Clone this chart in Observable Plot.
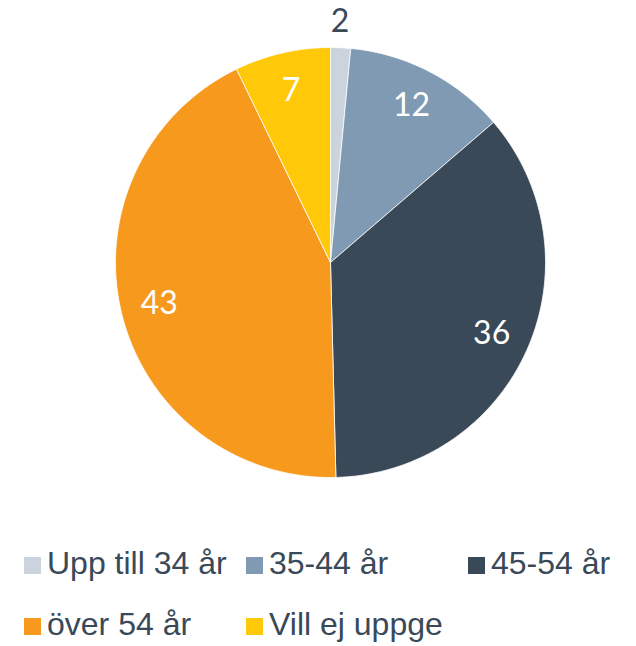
<!DOCTYPE html>
<html>
<head>
<meta charset="utf-8">
<script src="https://cdn.jsdelivr.net/npm/d3@7"></script>
<script src="https://cdn.jsdelivr.net/npm/@observablehq/plot@0.6"></script>
<style>
  html, body { margin: 0; padding: 0; background: #fff; }
  #chart svg { display: block; }
  #legend { padding: 13px 0 0 24px; font-family: "Liberation Sans", Arial, sans-serif; font-size: 32px; color: #3a4958; width: 660px; box-sizing: border-box; }
  .row { height: 61px; line-height: 61px; white-space: nowrap; }
  .item { display: inline-block; width: 222px; }
  .sw { display: inline-block; width: 17px; height: 17px; margin-right: 6px; }
</style>
</head>
<body>
<div id="chart"></div>
<div id="legend"></div>
<script>
// Data (shares; labels shown rounded)
const categories = ["Upp till 34 år", "35-44 år", "45-54 år", "över 54 år", "Vill ej uppge"];
const values = [1.5, 12.2, 35.9, 43.2, 7.2];
const labelTexts = ["2", "12", "36", "43", "7"];
const colors = ["#cbd3dc", "#7f9ab2", "#3a4958", "#f7991c", "#ffc90a"];

// Layout
const W = 636, H = 520, cx = 330, cy = 262, R = 215;

const total = d3.sum(values);
const slices = [];
let acc = 0;
values.forEach((v, i) => {
  const a0 = acc / total * 2 * Math.PI;
  acc += v;
  const a1 = acc / total * 2 * Math.PI;
  slices.push({cat: categories[i], value: v, label: labelTexts[i], a0, a1});
});

const pts = [];
for (const s of slices) {
  pts.push({cat: s.cat, x: 0, y: 0});
  const n = Math.max(2, Math.ceil((s.a1 - s.a0) / (Math.PI / 360)));
  for (let k = 0; k <= n; k++) {
    const a = s.a0 + (s.a1 - s.a0) * k / n;
    pts.push({cat: s.cat, x: Math.sin(a), y: Math.cos(a)});
  }
  pts.push({cat: s.cat, x: 0, y: 0});
}

const labels = slices.map(s => {
  const small = s.value < 5;
  const a = small ? s.a0 + 0.04 : (s.a0 + s.a1) / 2;
  const rr = small ? 1.12 : 0.82;
  return {label: s.label, x: Math.sin(a) * rr, y: Math.cos(a) * rr, fill: small ? "#3a4958" : "#ffffff"};
});

const plot = Plot.plot({
  width: W,
  height: H,
  margin: 0,
  x: {domain: [-cx / R, (W - cx) / R], range: [0, W], axis: null},
  y: {domain: [cy / R, -(H - cy) / R], range: [0, H], axis: null},
  color: {domain: categories, range: colors},
  marks: [
    Plot.line(pts, {x: "x", y: "y", z: "cat", fill: "cat", stroke: "#ffffff", strokeWidth: 0.8, strokeLinejoin: "round", curve: "linear"}),
    Plot.text(labels, {x: "x", y: "y", text: "label", fill: d => d.fill, fontSize: 32, fontFamily: "Lato, 'Open Sans', sans-serif", textAnchor: "middle", lineAnchor: "middle"})
  ]
});
document.getElementById("chart").appendChild(plot);

// Legend
const rows = [[0, 1, 2], [3, 4]];
const leg = d3.select("#legend");
rows.forEach(r => {
  const row = leg.append("div").attr("class", "row");
  r.forEach(i => {
    const it = row.append("span").attr("class", "item");
    it.append("span").attr("class", "sw").style("background", colors[i]);
    it.append("span").text(categories[i]);
  });
});
</script>
</body>
</html>
